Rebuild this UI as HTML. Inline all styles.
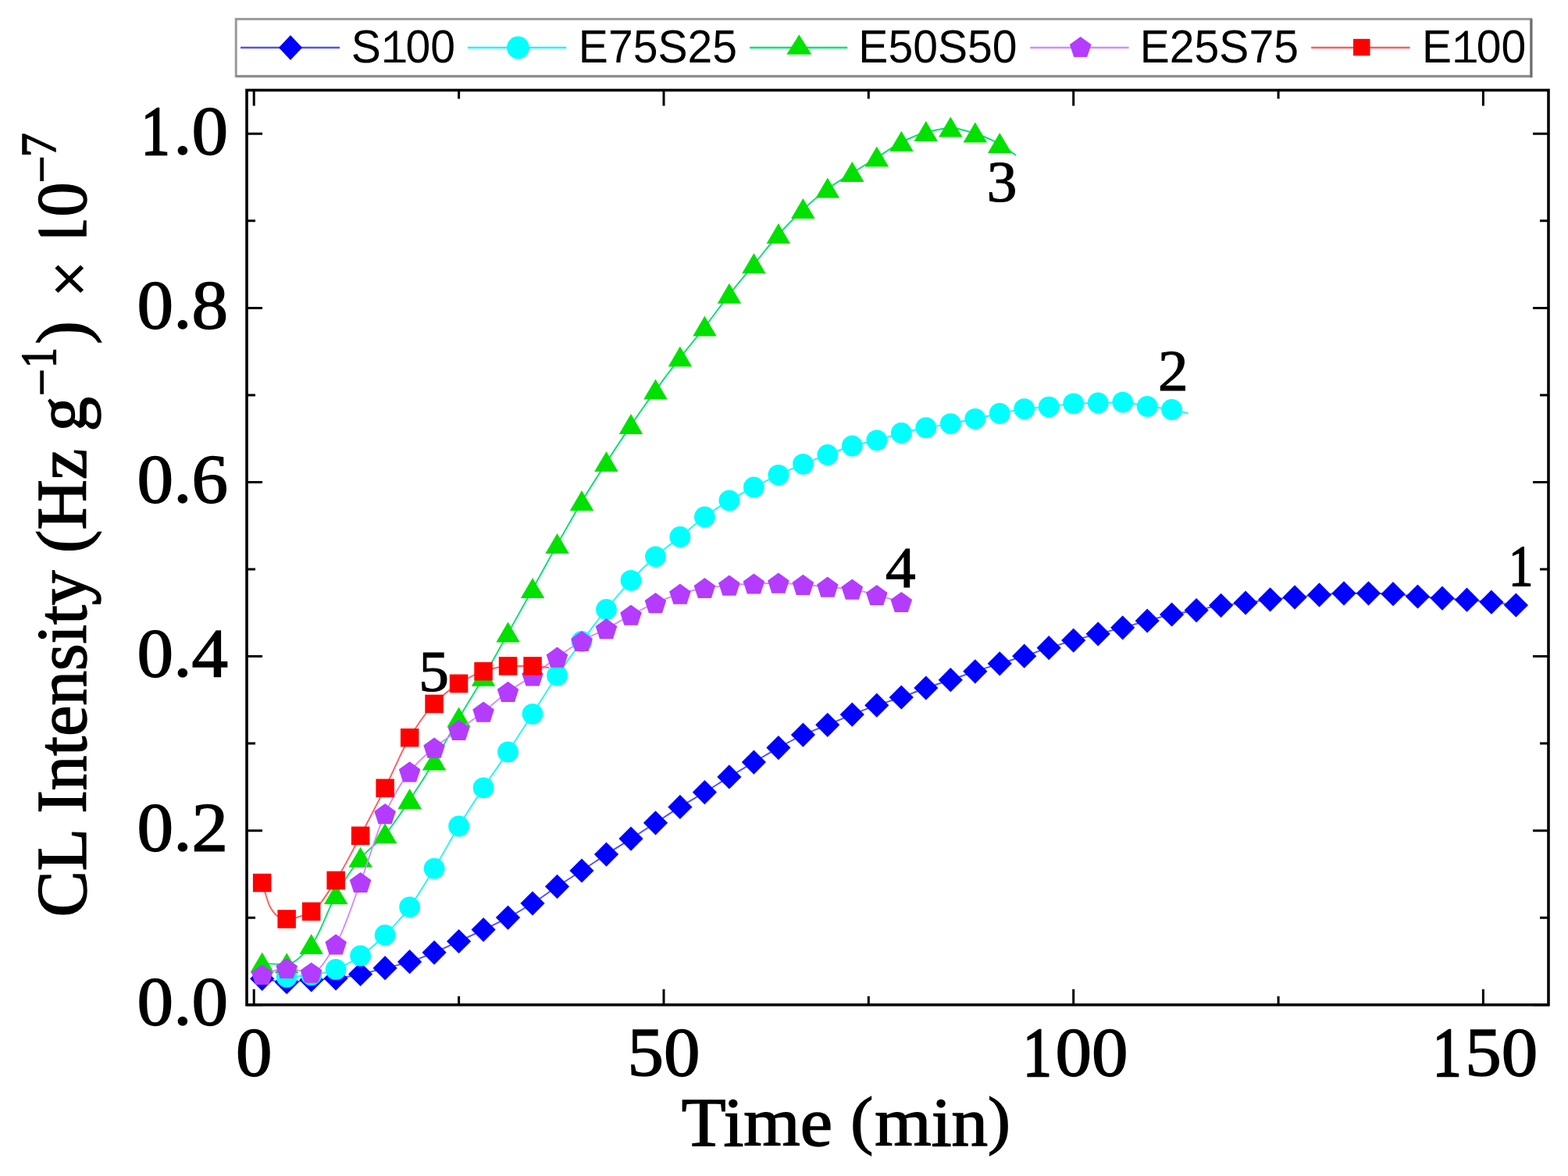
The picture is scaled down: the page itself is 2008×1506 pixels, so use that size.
<!DOCTYPE html><html><head><meta charset="utf-8"><title>CL Intensity</title><style>html,body{margin:0;padding:0;background:#fff;overflow:hidden;}svg{display:block;}text{font-family:"Liberation Serif","Times New Roman",serif;fill:#000;}.sans{font-family:"Liberation Sans",Arial,sans-serif;}</style></head><body>
<svg width="2008" height="1506" viewBox="0 0 2008 1506">
<rect width="2008" height="1506" fill="#fff"/>
<rect x="302.2" y="24.4" width="1658.5" height="73.2" fill="#fff" stroke="#9a9a9a" stroke-width="3"/>
<path d="M302.2 97.8H1961" fill="none" stroke="#8c8c8c" stroke-width="3"/>
<path d="M1961 24.4V99.3" fill="none" stroke="#6e6e6e" stroke-width="3"/>
<line x1="308.0" y1="61" x2="435.0" y2="61" stroke="#5050FF" stroke-width="2.6"/>
<g fill="#0000FF"><path d="M372.0 45.0l15 16l-15 16l-15 -16z"/></g>
<text class="sans" transform="translate(449.7,79.5) scale(0.968,1)" font-size="59"><tspan x="0.00">S</tspan><tspan x="39.35" style="font-family:&quot;WenQuanYi Zen Hei&quot;,&quot;Liberation Sans&quot;,sans-serif">1</tspan><tspan x="72.17">0</tspan><tspan x="104.98">0</tspan></text>
<line x1="598.8" y1="61" x2="725.2" y2="61" stroke="#22F4FF" stroke-width="2.6"/>
<g fill="#00FFFF"><circle cx="663.4" cy="61.0" r="14.4"/></g>
<text class="sans" transform="translate(740.8,79.5) scale(0.968,1)" font-size="59"><tspan x="0.00">E</tspan><tspan x="39.35">7</tspan><tspan x="72.17">5</tspan><tspan x="104.98">S</tspan><tspan x="144.33">2</tspan><tspan x="177.14">5</tspan></text>
<line x1="960.2" y1="61" x2="1085.2" y2="61" stroke="#00E070" stroke-width="2.6"/>
<g fill="#00E100"><path d="M1023.3 44.2L1039.3 69.8L1007.3 69.8z"/></g>
<text class="sans" transform="translate(1099.3,79.5) scale(0.968,1)" font-size="59"><tspan x="0.00">E</tspan><tspan x="39.35">5</tspan><tspan x="72.17">0</tspan><tspan x="104.98">S</tspan><tspan x="144.33">5</tspan><tspan x="177.14">0</tspan></text>
<line x1="1319.2" y1="61" x2="1445.6" y2="61" stroke="#D38CFF" stroke-width="2.6"/>
<g fill="#B43CFF"><path d="M1383.7 46.9L1397.5 56.9L1392.2 73.1L1375.2 73.1L1369.9 56.9z"/></g>
<text class="sans" transform="translate(1459.7,79.5) scale(0.968,1)" font-size="59"><tspan x="0.00">E</tspan><tspan x="39.35">2</tspan><tspan x="72.17">5</tspan><tspan x="104.98">S</tspan><tspan x="144.33">7</tspan><tspan x="177.14">5</tspan></text>
<line x1="1679.2" y1="61" x2="1805.6" y2="61" stroke="#FF5C5C" stroke-width="2.6"/>
<g fill="#FF0000"><rect x="1733.0" y="49.8" width="21.5" height="21.5"/></g>
<text class="sans" transform="translate(1821.0,79.5) scale(0.968,1)" font-size="59"><tspan x="0.00">E</tspan><tspan x="39.35" style="font-family:&quot;WenQuanYi Zen Hei&quot;,&quot;Liberation Sans&quot;,sans-serif">1</tspan><tspan x="72.17">0</tspan><tspan x="104.98">0</tspan></text>
<rect x="316" y="115.5" width="1667" height="1171.3" fill="none" stroke="#000" stroke-width="3.6"/>
<path d="M325.2 1286.8v-20M325.2 115.5v20M850.0 1286.8v-20M850.0 115.5v20M1374.7 1286.8v-20M1374.7 115.5v20M1899.4 1286.8v-20M1899.4 115.5v20M587.6 1286.8v-11M587.6 115.5v11M1112.3 1286.8v-11M1112.3 115.5v11M1637.1 1286.8v-11M1637.1 115.5v11M316.0 1286.8h20M1983.0 1286.8h-20M316.0 1063.7h20M1983.0 1063.7h-20M316.0 840.6h20M1983.0 840.6h-20M316.0 617.5h20M1983.0 617.5h-20M316.0 394.4h20M1983.0 394.4h-20M316.0 171.3h20M1983.0 171.3h-20M316.0 1175.2h11M1983.0 1175.2h-11M316.0 952.1h11M1983.0 952.1h-11M316.0 729.0h11M1983.0 729.0h-11M316.0 505.9h11M1983.0 505.9h-11M316.0 282.8h11M1983.0 282.8h-11" stroke="#000" stroke-width="3" fill="none"/>
<text transform="translate(175.62,1312.4) scale(1.058,1)" font-size="88" stroke="#000" stroke-width="1.5">0.0</text>
<text transform="translate(175.62,1089.3) scale(1.058,1)" font-size="88" stroke="#000" stroke-width="1.5">0.2</text>
<text transform="translate(175.62,866.2) scale(1.058,1)" font-size="88" stroke="#000" stroke-width="1.5">0.4</text>
<text transform="translate(175.62,643.1) scale(1.058,1)" font-size="88" stroke="#000" stroke-width="1.5">0.6</text>
<text transform="translate(175.62,420.0) scale(1.058,1)" font-size="88" stroke="#000" stroke-width="1.5">0.8</text>
<text transform="translate(199.94,196.9) scale(0.8464,1)" x="-22.99" font-size="88" stroke="#000" stroke-width="2.3">1</text><text transform="translate(222.17,196.9) scale(1.058,1)" font-size="88" stroke="#000" stroke-width="1.5">.0</text>
<text transform="translate(301.92,1377.0) scale(1.058,1)" font-size="88" stroke="#000" stroke-width="1.5">0</text>
<text transform="translate(803.40,1377.0) scale(1.058,1)" font-size="88" stroke="#000" stroke-width="1.5">50</text>
<text transform="translate(1329.19,1377.0) scale(0.8464,1)" x="-22.99" font-size="88" stroke="#000" stroke-width="2.3">1</text><text transform="translate(1351.42,1377.0) scale(1.058,1)" font-size="88" stroke="#000" stroke-width="1.5">00</text>
<text transform="translate(1853.94,1377.0) scale(0.8464,1)" x="-22.99" font-size="88" stroke="#000" stroke-width="2.3">1</text><text transform="translate(1876.17,1377.0) scale(1.058,1)" font-size="88" stroke="#000" stroke-width="1.5">50</text>
<text transform="translate(1083.4,1466.6) scale(1.058,1)" font-size="88" text-anchor="middle" stroke="#000" stroke-width="1.5">Time <tspan font-size="82" dy="-4.15">(</tspan><tspan dy="4.15" dx="2">min</tspan><tspan font-size="82" dy="-4.15">)</tspan></text>
<text transform="translate(110.30,1174.50) rotate(-90) scale(1.0,1.03)" font-size="89" stroke="#000" stroke-width="1.5">CL Intensity (Hz g</text>
<text transform="translate(75.00,507.21) rotate(-90) scale(1.0,1.03)" font-size="62" stroke="#000" stroke-width="1.5">&#8722;</text>
<text transform="translate(71.00,470.39) rotate(-90) scale(0.8,1.03)" font-size="62" stroke="#000" stroke-width="2.1">1</text>
<text transform="translate(110.30,440.75) rotate(-90) scale(1.0,1.03)" font-size="89" stroke="#000" stroke-width="1.5">)</text>
<text transform="translate(116.80,380.41) rotate(-90) scale(1.0,1.03)" font-size="82" stroke="#000" stroke-width="1.5">&#215;</text>
<text transform="translate(110.30,322.32) rotate(-90) scale(1.0,1.03)" font-size="89" stroke="#000" stroke-width="1.5">10</text>
<rect x="40" y="302.6" width="80" height="20" fill="#fff"/>
<text transform="translate(75.00,234.51) rotate(-90) scale(1.0,1.03)" font-size="62" stroke="#000" stroke-width="1.5">&#8722;</text>
<text transform="translate(71.00,201.35) rotate(-90) scale(1.0,1.03)" font-size="62" stroke="#000" stroke-width="1.5">7</text>
<path d="M335.7,1253.3 C346.2,1254.8 356.7,1257.7 367.2,1257.7 C377.7,1257.7 388.2,1255.8 398.7,1255.0 C409.2,1254.2 419.7,1254.0 430.1,1253.0 C440.6,1252.0 451.1,1249.7 461.6,1247.5 C472.1,1245.3 482.6,1242.3 493.1,1239.7 C503.6,1237.1 514.1,1234.9 524.6,1231.7 C535.1,1228.5 545.6,1224.1 556.1,1219.8 C566.6,1215.5 577.1,1210.4 587.6,1205.5 C598.1,1200.6 608.6,1195.7 619.1,1190.6 C629.6,1185.5 640.0,1180.7 650.5,1175.1 C661.0,1169.5 671.5,1163.4 682.0,1156.8 C692.5,1150.2 703.0,1142.3 713.5,1135.3 C724.0,1128.3 734.5,1121.9 745.0,1115.0 C755.5,1108.1 766.0,1100.9 776.5,1094.1 C787.0,1087.3 797.5,1080.8 808.0,1074.1 C818.5,1067.4 829.0,1060.6 839.5,1053.8 C849.9,1047.0 860.4,1039.9 870.9,1033.4 C881.4,1026.9 891.9,1021.0 902.4,1014.6 C912.9,1008.2 923.4,1001.3 933.9,994.9 C944.4,988.5 954.9,982.3 965.4,976.1 C975.9,969.9 986.4,963.4 996.9,957.6 C1007.4,951.8 1017.9,945.9 1028.4,941.1 C1038.9,936.3 1049.4,932.6 1059.8,928.3 C1070.3,924.0 1080.8,919.3 1091.3,915.1 C1101.8,910.9 1112.3,906.9 1122.8,903.2 C1133.3,899.5 1143.8,896.7 1154.3,893.0 C1164.8,889.3 1175.3,884.7 1185.8,881.0 C1196.3,877.3 1206.8,874.2 1217.3,870.7 C1227.8,867.2 1238.3,863.3 1248.8,859.8 C1259.3,856.3 1269.8,853.1 1280.2,849.8 C1290.7,846.5 1301.2,843.5 1311.7,840.2 C1322.2,836.9 1332.7,833.0 1343.2,829.7 C1353.7,826.4 1364.2,823.1 1374.7,820.1 C1385.2,817.1 1395.7,814.5 1406.2,811.8 C1416.7,809.1 1427.2,806.6 1437.7,803.8 C1448.2,801.0 1458.7,797.8 1469.2,795.0 C1479.6,792.2 1490.1,789.1 1500.6,787.0 C1511.1,784.9 1521.6,783.5 1532.1,781.6 C1542.6,779.7 1553.1,776.7 1563.6,775.3 C1574.1,773.9 1584.6,773.2 1595.1,772.0 C1605.6,770.8 1616.1,768.9 1626.6,767.8 C1637.1,766.7 1647.6,765.9 1658.1,764.9 C1668.6,763.9 1679.1,762.7 1689.5,761.9 C1700.0,761.1 1710.5,759.8 1721.0,759.8 C1731.5,759.8 1742.0,759.8 1752.5,759.8 C1763.0,759.8 1773.5,760.2 1784.0,760.7 C1794.5,761.2 1805.0,763.1 1815.5,764.0 C1826.0,764.9 1836.5,765.4 1847.0,766.1 C1857.5,766.8 1868.0,767.4 1878.5,768.2 C1889.0,769.0 1899.5,770.0 1909.9,771.1 C1920.4,772.2 1930.9,773.7 1941.4,775.0" fill="none" stroke="#5050FF" stroke-width="1.9" stroke-linejoin="round"/>
<g fill="#0000FF"><path d="M335.7 1237.7l15.6 15.6l-15.6 15.6l-15.6 -15.6z"/><path d="M367.2 1242.1l15.6 15.6l-15.6 15.6l-15.6 -15.6z"/><path d="M398.7 1239.4l15.6 15.6l-15.6 15.6l-15.6 -15.6z"/><path d="M430.1 1237.4l15.6 15.6l-15.6 15.6l-15.6 -15.6z"/><path d="M461.6 1231.9l15.6 15.6l-15.6 15.6l-15.6 -15.6z"/><path d="M493.1 1224.1l15.6 15.6l-15.6 15.6l-15.6 -15.6z"/><path d="M524.6 1216.1l15.6 15.6l-15.6 15.6l-15.6 -15.6z"/><path d="M556.1 1204.2l15.6 15.6l-15.6 15.6l-15.6 -15.6z"/><path d="M587.6 1189.9l15.6 15.6l-15.6 15.6l-15.6 -15.6z"/><path d="M619.1 1175.0l15.6 15.6l-15.6 15.6l-15.6 -15.6z"/><path d="M650.5 1159.5l15.6 15.6l-15.6 15.6l-15.6 -15.6z"/><path d="M682.0 1141.2l15.6 15.6l-15.6 15.6l-15.6 -15.6z"/><path d="M713.5 1119.7l15.6 15.6l-15.6 15.6l-15.6 -15.6z"/><path d="M745.0 1099.4l15.6 15.6l-15.6 15.6l-15.6 -15.6z"/><path d="M776.5 1078.5l15.6 15.6l-15.6 15.6l-15.6 -15.6z"/><path d="M808.0 1058.5l15.6 15.6l-15.6 15.6l-15.6 -15.6z"/><path d="M839.5 1038.2l15.6 15.6l-15.6 15.6l-15.6 -15.6z"/><path d="M870.9 1017.8l15.6 15.6l-15.6 15.6l-15.6 -15.6z"/><path d="M902.4 999.0l15.6 15.6l-15.6 15.6l-15.6 -15.6z"/><path d="M933.9 979.3l15.6 15.6l-15.6 15.6l-15.6 -15.6z"/><path d="M965.4 960.5l15.6 15.6l-15.6 15.6l-15.6 -15.6z"/><path d="M996.9 942.0l15.6 15.6l-15.6 15.6l-15.6 -15.6z"/><path d="M1028.4 925.5l15.6 15.6l-15.6 15.6l-15.6 -15.6z"/><path d="M1059.8 912.7l15.6 15.6l-15.6 15.6l-15.6 -15.6z"/><path d="M1091.3 899.5l15.6 15.6l-15.6 15.6l-15.6 -15.6z"/><path d="M1122.8 887.6l15.6 15.6l-15.6 15.6l-15.6 -15.6z"/><path d="M1154.3 877.4l15.6 15.6l-15.6 15.6l-15.6 -15.6z"/><path d="M1185.8 865.4l15.6 15.6l-15.6 15.6l-15.6 -15.6z"/><path d="M1217.3 855.1l15.6 15.6l-15.6 15.6l-15.6 -15.6z"/><path d="M1248.8 844.2l15.6 15.6l-15.6 15.6l-15.6 -15.6z"/><path d="M1280.2 834.2l15.6 15.6l-15.6 15.6l-15.6 -15.6z"/><path d="M1311.7 824.6l15.6 15.6l-15.6 15.6l-15.6 -15.6z"/><path d="M1343.2 814.1l15.6 15.6l-15.6 15.6l-15.6 -15.6z"/><path d="M1374.7 804.5l15.6 15.6l-15.6 15.6l-15.6 -15.6z"/><path d="M1406.2 796.2l15.6 15.6l-15.6 15.6l-15.6 -15.6z"/><path d="M1437.7 788.2l15.6 15.6l-15.6 15.6l-15.6 -15.6z"/><path d="M1469.2 779.4l15.6 15.6l-15.6 15.6l-15.6 -15.6z"/><path d="M1500.6 771.4l15.6 15.6l-15.6 15.6l-15.6 -15.6z"/><path d="M1532.1 766.0l15.6 15.6l-15.6 15.6l-15.6 -15.6z"/><path d="M1563.6 759.7l15.6 15.6l-15.6 15.6l-15.6 -15.6z"/><path d="M1595.1 756.4l15.6 15.6l-15.6 15.6l-15.6 -15.6z"/><path d="M1626.6 752.2l15.6 15.6l-15.6 15.6l-15.6 -15.6z"/><path d="M1658.1 749.3l15.6 15.6l-15.6 15.6l-15.6 -15.6z"/><path d="M1689.5 746.3l15.6 15.6l-15.6 15.6l-15.6 -15.6z"/><path d="M1721.0 744.2l15.6 15.6l-15.6 15.6l-15.6 -15.6z"/><path d="M1752.5 744.2l15.6 15.6l-15.6 15.6l-15.6 -15.6z"/><path d="M1784.0 745.1l15.6 15.6l-15.6 15.6l-15.6 -15.6z"/><path d="M1815.5 748.4l15.6 15.6l-15.6 15.6l-15.6 -15.6z"/><path d="M1847.0 750.5l15.6 15.6l-15.6 15.6l-15.6 -15.6z"/><path d="M1878.5 752.6l15.6 15.6l-15.6 15.6l-15.6 -15.6z"/><path d="M1909.9 755.5l15.6 15.6l-15.6 15.6l-15.6 -15.6z"/><path d="M1941.4 759.4l15.6 15.6l-15.6 15.6l-15.6 -15.6z"/></g>
<path d="M367.2,1251.3 C377.7,1250.5 388.2,1250.0 398.7,1248.8 C409.2,1247.6 419.7,1244.9 430.1,1241.4 C440.6,1237.9 451.1,1231.0 461.6,1224.0 C472.1,1217.0 482.6,1207.7 493.1,1197.5 C503.6,1187.3 514.1,1175.5 524.6,1161.6 C535.1,1147.7 545.6,1129.4 556.1,1112.2 C566.6,1095.0 577.1,1075.2 587.6,1058.0 C598.1,1040.8 608.6,1024.6 619.1,1008.8 C629.6,993.0 640.0,978.6 650.5,962.9 C661.0,947.2 671.5,930.6 682.0,914.3 C692.5,898.0 703.0,880.4 713.5,865.0 C724.0,849.6 734.5,835.6 745.0,821.5 C755.5,807.4 766.0,793.5 776.5,780.5 C787.0,767.5 797.5,754.5 808.0,743.3 C818.5,732.1 829.0,722.0 839.5,712.8 C849.9,703.6 860.4,695.9 870.9,687.4 C881.4,678.9 891.9,669.7 902.4,662.0 C912.9,654.3 923.4,647.2 933.9,640.9 C944.4,634.6 954.9,629.3 965.4,623.9 C975.9,618.5 986.4,613.2 996.9,608.3 C1007.4,603.4 1017.9,598.6 1028.4,594.3 C1038.9,590.0 1049.4,586.3 1059.8,582.4 C1070.3,578.5 1080.8,573.9 1091.3,571.0 C1101.8,568.1 1112.3,566.5 1122.8,563.8 C1133.3,561.1 1143.8,557.1 1154.3,554.5 C1164.8,551.9 1175.3,549.6 1185.8,547.7 C1196.3,545.8 1206.8,544.5 1217.3,542.6 C1227.8,540.7 1238.3,538.5 1248.8,536.3 C1259.3,534.1 1269.8,531.6 1280.2,529.5 C1290.7,527.4 1301.2,524.8 1311.7,523.6 C1322.2,522.4 1332.7,522.2 1343.2,521.1 C1353.7,520.0 1364.2,517.2 1374.7,516.8 C1385.2,516.4 1395.7,516.3 1406.2,516.0 C1416.7,515.7 1427.2,515.1 1437.7,515.1 C1448.2,515.1 1458.7,518.9 1469.2,520.4 C1479.6,521.9 1490.1,522.7 1500.6,524.5 C1507.6,525.7 1514.6,527.6 1521.6,529.2" fill="none" stroke="#22F4FF" stroke-width="1.9" stroke-linejoin="round"/>
<g fill="#00FFFF"><circle cx="367.2" cy="1251.3" r="13.4"/><circle cx="398.7" cy="1248.8" r="13.4"/><circle cx="430.1" cy="1241.4" r="13.4"/><circle cx="461.6" cy="1224.0" r="13.4"/><circle cx="493.1" cy="1197.5" r="13.4"/><circle cx="524.6" cy="1161.6" r="13.4"/><circle cx="556.1" cy="1112.2" r="13.4"/><circle cx="587.6" cy="1058.0" r="13.4"/><circle cx="619.1" cy="1008.8" r="13.4"/><circle cx="650.5" cy="962.9" r="13.4"/><circle cx="682.0" cy="914.3" r="13.4"/><circle cx="713.5" cy="865.0" r="13.4"/><circle cx="745.0" cy="821.5" r="13.4"/><circle cx="776.5" cy="780.5" r="13.4"/><circle cx="808.0" cy="743.3" r="13.4"/><circle cx="839.5" cy="712.8" r="13.4"/><circle cx="870.9" cy="687.4" r="13.4"/><circle cx="902.4" cy="662.0" r="13.4"/><circle cx="933.9" cy="640.9" r="13.4"/><circle cx="965.4" cy="623.9" r="13.4"/><circle cx="996.9" cy="608.3" r="13.4"/><circle cx="1028.4" cy="594.3" r="13.4"/><circle cx="1059.8" cy="582.4" r="13.4"/><circle cx="1091.3" cy="571.0" r="13.4"/><circle cx="1122.8" cy="563.8" r="13.4"/><circle cx="1154.3" cy="554.5" r="13.4"/><circle cx="1185.8" cy="547.7" r="13.4"/><circle cx="1217.3" cy="542.6" r="13.4"/><circle cx="1248.8" cy="536.3" r="13.4"/><circle cx="1280.2" cy="529.5" r="13.4"/><circle cx="1311.7" cy="523.6" r="13.4"/><circle cx="1343.2" cy="521.1" r="13.4"/><circle cx="1374.7" cy="516.8" r="13.4"/><circle cx="1406.2" cy="516.0" r="13.4"/><circle cx="1437.7" cy="515.1" r="13.4"/><circle cx="1469.2" cy="520.4" r="13.4"/><circle cx="1500.6" cy="524.5" r="13.4"/></g>
<path d="M335.7,1234.1 C346.2,1234.3 356.7,1234.7 367.2,1234.7 C377.7,1234.7 388.2,1222.2 398.7,1210.5 C409.2,1198.8 419.7,1164.6 430.1,1146.5 C440.6,1128.4 451.1,1111.5 461.6,1099.2 C472.1,1086.9 482.6,1080.8 493.1,1068.8 C503.6,1056.8 514.1,1040.0 524.6,1024.4 C535.1,1008.8 545.6,992.3 556.1,974.9 C566.6,957.5 577.1,937.9 587.6,920.0 C598.1,902.1 608.6,885.3 619.1,867.2 C629.6,849.1 640.0,829.9 650.5,811.1 C661.0,792.3 671.5,773.4 682.0,754.5 C692.5,735.6 703.0,716.1 713.5,697.4 C724.0,678.7 734.5,659.9 745.0,642.4 C755.5,624.9 766.0,608.7 776.5,592.4 C787.0,576.1 797.5,560.0 808.0,544.6 C818.5,529.2 829.0,514.3 839.5,499.9 C849.9,485.5 860.4,471.6 870.9,458.1 C881.4,444.6 891.9,432.5 902.4,419.0 C912.9,405.5 923.4,390.6 933.9,377.2 C944.4,363.8 954.9,351.5 965.4,338.7 C975.9,325.9 986.4,312.1 996.9,300.5 C1007.4,288.9 1017.9,278.1 1028.4,268.4 C1038.9,258.7 1049.4,249.6 1059.8,241.9 C1070.3,234.2 1080.8,228.2 1091.3,221.6 C1101.8,215.0 1112.3,208.6 1122.8,202.0 C1133.3,195.4 1143.8,187.4 1154.3,182.2 C1164.8,177.0 1175.3,172.1 1185.8,169.5 C1196.3,166.9 1206.8,164.0 1217.3,164.0 C1227.8,164.0 1238.3,167.9 1248.8,171.0 C1259.3,174.1 1269.8,178.9 1280.2,184.5 C1287.2,188.3 1294.2,194.2 1301.2,199.0" fill="none" stroke="#00E070" stroke-width="1.9" stroke-linejoin="round"/>
<g fill="#00E100"><path d="M335.7 1219.6L350.9 1245.6L320.4 1245.6z"/><path d="M367.2 1220.2L382.4 1246.2L351.9 1246.2z"/><path d="M398.7 1196.0L413.9 1222.0L383.4 1222.0z"/><path d="M430.1 1132.0L445.4 1158.0L414.9 1158.0z"/><path d="M461.6 1084.7L476.9 1110.7L446.4 1110.7z"/><path d="M493.1 1054.3L508.4 1080.3L477.9 1080.3z"/><path d="M524.6 1009.9L539.9 1035.9L509.4 1035.9z"/><path d="M556.1 960.4L571.3 986.4L540.8 986.4z"/><path d="M587.6 905.5L602.8 931.5L572.3 931.5z"/><path d="M619.1 852.7L634.3 878.7L603.8 878.7z"/><path d="M650.5 796.6L665.8 822.6L635.3 822.6z"/><path d="M682.0 740.0L697.3 766.0L666.8 766.0z"/><path d="M713.5 682.9L728.8 708.9L698.3 708.9z"/><path d="M745.0 627.9L760.2 653.9L729.8 653.9z"/><path d="M776.5 577.9L791.7 603.9L761.2 603.9z"/><path d="M808.0 530.1L823.2 556.1L792.7 556.1z"/><path d="M839.5 485.4L854.7 511.4L824.2 511.4z"/><path d="M870.9 443.6L886.2 469.6L855.7 469.6z"/><path d="M902.4 404.5L917.7 430.5L887.2 430.5z"/><path d="M933.9 362.7L949.2 388.7L918.7 388.7z"/><path d="M965.4 324.2L980.6 350.2L950.1 350.2z"/><path d="M996.9 286.0L1012.1 312.0L981.6 312.0z"/><path d="M1028.4 253.9L1043.6 279.9L1013.1 279.9z"/><path d="M1059.8 227.4L1075.1 253.4L1044.6 253.4z"/><path d="M1091.3 207.1L1106.6 233.1L1076.1 233.1z"/><path d="M1122.8 187.5L1138.1 213.5L1107.6 213.5z"/><path d="M1154.3 167.7L1169.6 193.7L1139.1 193.7z"/><path d="M1185.8 155.0L1201.0 181.0L1170.5 181.0z"/><path d="M1217.3 149.5L1232.5 175.5L1202.0 175.5z"/><path d="M1248.8 156.5L1264.0 182.5L1233.5 182.5z"/><path d="M1280.2 170.0L1295.5 196.0L1265.0 196.0z"/></g>
<path d="M335.7,1248.0 C346.2,1245.3 356.7,1240.0 367.2,1240.0 C377.7,1240.0 388.2,1245.6 398.7,1245.6 C409.2,1245.6 419.7,1225.9 430.1,1209.3 C440.6,1192.7 451.1,1157.8 461.6,1130.0 C472.1,1102.2 482.6,1064.5 493.1,1042.2 C503.6,1019.9 514.1,1001.3 524.6,988.3 C535.1,975.3 545.6,966.3 556.1,957.6 C566.6,948.9 577.1,942.6 587.6,934.9 C598.1,927.2 608.6,919.7 619.1,911.6 C629.6,903.5 640.0,893.5 650.5,885.9 C661.0,878.3 671.5,872.8 682.0,865.5 C692.5,858.2 703.0,849.0 713.5,841.6 C724.0,834.2 734.5,827.0 745.0,821.0 C755.5,815.0 766.0,810.6 776.5,805.1 C787.0,799.6 797.5,793.2 808.0,787.7 C818.5,782.2 829.0,776.5 839.5,772.1 C849.9,767.7 860.4,763.7 870.9,760.6 C881.4,757.5 891.9,754.6 902.4,753.0 C912.9,751.4 923.4,750.5 933.9,749.6 C944.4,748.7 954.9,747.9 965.4,747.5 C975.9,747.1 986.4,746.7 996.9,746.7 C1007.4,746.7 1017.9,748.0 1028.4,748.8 C1038.9,749.6 1049.4,750.6 1059.8,751.6 C1070.3,752.6 1080.8,753.2 1091.3,754.6 C1101.8,756.0 1112.3,759.3 1122.8,762.0 C1133.3,764.7 1143.8,768.0 1154.3,771.0" fill="none" stroke="#D38CFF" stroke-width="1.9" stroke-linejoin="round"/>
<g fill="#B43CFF"><path d="M335.7 1234.9L349.5 1244.9L344.2 1261.1L327.2 1261.1L321.9 1244.9z"/><path d="M367.2 1226.9L381.0 1236.9L375.7 1253.1L358.7 1253.1L353.4 1236.9z"/><path d="M398.7 1232.5L412.5 1242.5L407.2 1258.7L390.1 1258.7L384.9 1242.5z"/><path d="M430.1 1196.2L443.9 1206.2L438.7 1222.4L421.6 1222.4L416.4 1206.2z"/><path d="M461.6 1116.9L475.4 1126.9L470.2 1143.1L453.1 1143.1L447.8 1126.9z"/><path d="M493.1 1029.1L506.9 1039.1L501.6 1055.3L484.6 1055.3L479.3 1039.1z"/><path d="M524.6 975.2L538.4 985.2L533.1 1001.4L516.1 1001.4L510.8 985.2z"/><path d="M556.1 944.5L569.9 954.5L564.6 970.7L547.6 970.7L542.3 954.5z"/><path d="M587.6 921.8L601.4 931.8L596.1 948.0L579.1 948.0L573.8 931.8z"/><path d="M619.1 898.5L632.9 908.5L627.6 924.7L610.5 924.7L605.3 908.5z"/><path d="M650.5 872.8L664.3 882.8L659.1 899.0L642.0 899.0L636.8 882.8z"/><path d="M682.0 852.4L695.8 862.4L690.6 878.6L673.5 878.6L668.2 862.4z"/><path d="M713.5 828.5L727.3 838.5L722.0 854.7L705.0 854.7L699.7 838.5z"/><path d="M745.0 807.9L758.8 817.9L753.5 834.1L736.5 834.1L731.2 817.9z"/><path d="M776.5 792.0L790.3 802.0L785.0 818.2L768.0 818.2L762.7 802.0z"/><path d="M808.0 774.6L821.8 784.6L816.5 800.8L799.4 800.8L794.2 784.6z"/><path d="M839.5 759.0L853.2 769.0L848.0 785.2L830.9 785.2L825.7 769.0z"/><path d="M870.9 747.5L884.7 757.5L879.5 773.7L862.4 773.7L857.1 757.5z"/><path d="M902.4 739.9L916.2 749.9L910.9 766.1L893.9 766.1L888.6 749.9z"/><path d="M933.9 736.5L947.7 746.5L942.4 762.7L925.4 762.7L920.1 746.5z"/><path d="M965.4 734.4L979.2 744.4L973.9 760.6L956.9 760.6L951.6 744.4z"/><path d="M996.9 733.6L1010.7 743.6L1005.4 759.8L988.4 759.8L983.1 743.6z"/><path d="M1028.4 735.7L1042.2 745.7L1036.9 761.9L1019.8 761.9L1014.6 745.7z"/><path d="M1059.8 738.5L1073.6 748.5L1068.4 764.7L1051.3 764.7L1046.1 748.5z"/><path d="M1091.3 741.5L1105.1 751.5L1099.9 767.7L1082.8 767.7L1077.5 751.5z"/><path d="M1122.8 748.9L1136.6 758.9L1131.3 775.1L1114.3 775.1L1109.0 758.9z"/><path d="M1154.3 757.9L1168.1 767.9L1162.8 784.1L1145.8 784.1L1140.5 767.9z"/></g>
<path d="M335.7,1130.5 C339.2,1141.0 342.7,1156.2 346.2,1162.0 C349.7,1167.8 353.2,1172.4 356.7,1174.0 C360.2,1175.6 363.7,1177.0 367.2,1177.0 C377.7,1177.0 388.2,1172.5 398.7,1167.3 C409.2,1162.1 419.7,1143.1 430.1,1127.4 C440.6,1111.7 451.1,1089.9 461.6,1070.2 C472.1,1050.5 482.6,1030.2 493.1,1009.3 C503.6,988.4 514.1,961.9 524.6,944.6 C535.1,927.3 545.6,912.2 556.1,901.4 C566.6,890.6 577.1,881.9 587.6,875.4 C598.1,868.9 608.6,862.8 619.1,859.7 C629.6,856.6 640.0,853.0 650.5,853.0 C661.0,853.0 671.5,853.0 682.0,853.0 C689.0,853.0 696.0,854.3 703.0,855.0" fill="none" stroke="#FF5C5C" stroke-width="1.9" stroke-linejoin="round"/>
<g fill="#FF0000"><rect x="323.9" y="1118.8" width="23.5" height="23.5"/><rect x="355.4" y="1165.2" width="23.5" height="23.5"/><rect x="386.9" y="1155.5" width="23.5" height="23.5"/><rect x="418.4" y="1115.7" width="23.5" height="23.5"/><rect x="449.9" y="1058.5" width="23.5" height="23.5"/><rect x="481.4" y="997.5" width="23.5" height="23.5"/><rect x="512.9" y="932.9" width="23.5" height="23.5"/><rect x="544.3" y="889.6" width="23.5" height="23.5"/><rect x="575.8" y="863.6" width="23.5" height="23.5"/><rect x="607.3" y="848.0" width="23.5" height="23.5"/><rect x="638.8" y="841.2" width="23.5" height="23.5"/><rect x="670.3" y="841.2" width="23.5" height="23.5"/></g>
<text transform="translate(1948.47,749.7) scale(0.8464,1)" x="-19.07" font-size="73" stroke="#000" stroke-width="1.9">1</text>
<text transform="translate(1502.2,500.0) scale(1.058,1)" font-size="73" text-anchor="middle" stroke="#000" stroke-width="1.2">2</text>
<text transform="translate(1283.1,258.1) scale(1.058,1)" font-size="73" text-anchor="middle" stroke="#000" stroke-width="1.2">3</text>
<text transform="translate(1153.2,752.4) scale(1.058,1)" font-size="73" text-anchor="middle" stroke="#000" stroke-width="1.2">4</text>
<text transform="translate(555.5,884.7) scale(1.058,1)" font-size="73" text-anchor="middle" stroke="#000" stroke-width="1.2">5</text>
</svg></body></html>
